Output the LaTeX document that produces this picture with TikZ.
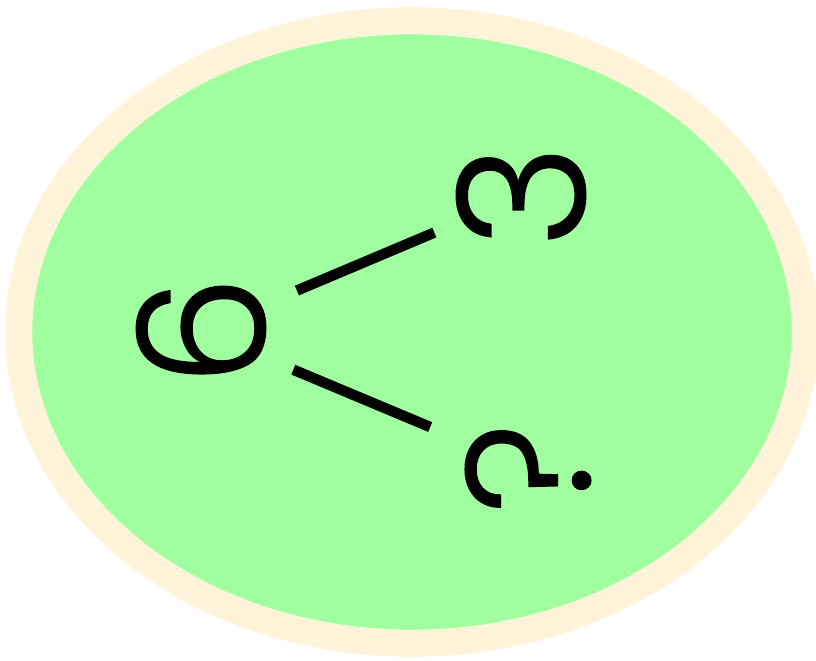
\documentclass[tikz,border=0pt]{standalone}
\usepackage{fontspec}
\usetikzlibrary{shapes.geometric}
\newfontfamily\numfont{Poppins}[UprightFont=* Light, FakeBold=1]
\definecolor{bondgreen}{HTML}{A0FF9E}
\definecolor{cream}{HTML}{FFF4DA}
\tikzset{
  num/.style={font=\numfont\fontsize{50}{60}\selectfont, rotate=90, inner sep=0pt, text=black},
  bond/.style={line width=0.105cm, black, line cap=butt}
}
\begin{document}
\begin{tikzpicture}[x=0.01cm, y=-0.01cm]
\useasboundingbox (0,0) rectangle (816,660);
\fill[white] (0,0) rectangle (816,660);
\node[draw=cream, fill=bondgreen, line width=0.27cm, ellipse, minimum width=7.86cm, minimum height=6.22cm, inner sep=0pt] (oval) at (412,332) {};
\node[num] (six) at (201,331) {6};
\node[num] (three) at (521,196) {3};
\node[num] (unk) at (528,468) {?};
\draw[bond, shorten <=1.04cm, shorten >=0.94cm] (six.center) -- (three.center);
\draw[bond, shorten <=1.0cm, shorten >=1.06cm] (six.center) -- (unk.center);
\end{tikzpicture}
\end{document}
